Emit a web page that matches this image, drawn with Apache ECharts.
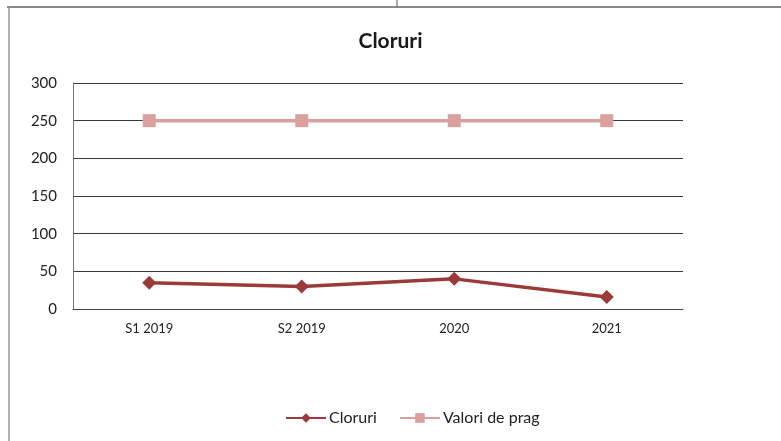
<!DOCTYPE html>
<html>
<head>
<meta charset="utf-8">
<script src="https://cdn.jsdelivr.net/npm/echarts@6/dist/echarts.min.js"></script>
<style>html,body{margin:0;padding:0;background:#fff;}#c{width:781px;height:441px;}</style>
</head>
<body>
<div id="c"></div>
<script>
const categories = ['S1 2019', 'S2 2019', '2020', '2021'];
const cloruri = [35, 30, 40, 16];
const valoriDePrag = [250, 250, 250, 250];
const yTicks = { min: 0, max: 300, interval: 50 };

const chart = echarts.init(document.getElementById('c'));
const font = 'Lato, "Open Sans", sans-serif';
chart.setOption({
  backgroundColor: '#ffffff',
  animation: false,
  title: {
    text: 'Cloruri', left: 'center', top: 26, itemGap: 0,
    textStyle: { fontFamily: font, fontSize: 21, fontWeight: 'bold', color: '#1a1a1a' }
  },
  graphic: [
    { type: 'line', shape: { x1: 7, y1: 7, x2: 781, y2: 7 }, style: { stroke: '#888', lineWidth: 2 } },
    { type: 'line', shape: { x1: 9, y1: 7, x2: 9, y2: 441 }, style: { stroke: '#999', lineWidth: 1.5 } },
    { type: 'line', shape: { x1: 397, y1: 0, x2: 397, y2: 7 }, style: { stroke: '#888', lineWidth: 1.5 } }
  ],
  grid: { left: 73, right: 98, top: 83, bottom: 132, containLabel: false },
  xAxis: {
    type: 'category', data: categories, boundaryGap: true,
    axisLine: { lineStyle: { color: '#444', width: 1 } },
    axisTick: { show: false },
    axisLabel: { fontFamily: font, fontSize: 13, color: '#222', margin: 13 }
  },
  yAxis: {
    type: 'value', min: yTicks.min, max: yTicks.max, interval: yTicks.interval,
    axisLine: { show: true, lineStyle: { color: '#777', width: 1 } },
    axisTick: { show: false },
    axisLabel: { fontFamily: font, fontSize: 15, color: '#222', margin: 16 },
    splitLine: { lineStyle: { color: '#3a3a3a', width: 1 } }
  },
  legend: {
    bottom: 10, left: 280, itemWidth: 40, itemHeight: 12, itemGap: 22,
    textStyle: { fontFamily: font, fontSize: 16, color: '#222', padding: [0, 0, 0, -2] },
    data: ['Cloruri', 'Valori de prag']
  },
  series: [
    {
      name: 'Cloruri', type: 'line', data: cloruri,
      symbol: 'diamond', symbolSize: 14,
      lineStyle: { color: '#9b3a39', width: 3.5 },
      itemStyle: { color: '#9b3a39' }
    },
    {
      name: 'Valori de prag', type: 'line', data: valoriDePrag,
      symbol: 'rect', symbolSize: 13,
      lineStyle: { color: '#d9a09e', width: 3.5 },
      itemStyle: { color: '#d9a09e' }
    }
  ]
});
</script>
</body>
</html>
